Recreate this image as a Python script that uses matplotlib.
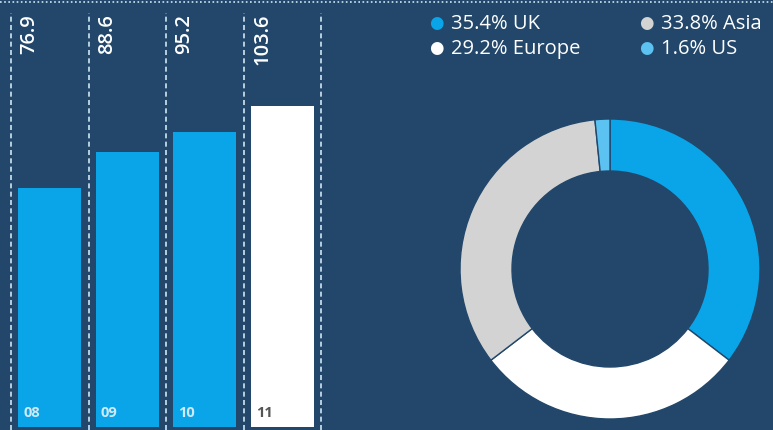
import matplotlib
matplotlib.use("Agg")
import matplotlib.pyplot as plt

years = ["08", "09", "10", "11"]
values = [76.9, 88.6, 95.2, 103.6]
bar_colors = ["#0aa5e8", "#0aa5e8", "#0aa5e8", "#ffffff"]
year_colors = ["#cfe9f6", "#cfe9f6", "#cfe9f6", "#555555"]

regions = ["UK", "Europe", "Asia", "US"]
shares = [35.4, 29.2, 33.8, 1.6]
region_colors = ["#0aa5e8", "#ffffff", "#d3d3d3", "#5cc2f2"]

BG = "#22476b"
LINE = "#cfe6f3"
plt.rcParams['font.family'] = ['Open Sans', 'DejaVu Sans']

fig = plt.figure(figsize=(7.73, 4.31), dpi=100)
fig.patch.set_facecolor(BG)

# top dotted rule
fig.add_artist(plt.Line2D([0, 1], [0.993, 0.993], transform=fig.transFigure,
                          color=LINE, lw=1.2, linestyle=(0, (1, 1.5))))

# bar chart
W, H = 773, 431
ax = fig.add_axes([0, 0, 330 / W, 1])
ax.set_facecolor("none")
xs = list(range(len(years)))
ax.bar(xs, values, width=0.81, color=bar_colors, zorder=2)
ax.set_xlim(-0.5 - 11 / 77.5, -0.5 - 11 / 77.5 + 330 / 77.5)
ax.set_ylim(-1.0, 138.0)
ax.axis("off")
ytop = 133.5
ax.vlines([x - 0.5 for x in xs] + [xs[-1] + 0.5], -1, ytop, colors=LINE,
          linestyles=(0, (3, 2)), lw=1.2, zorder=3)
for x, v, y, c in zip(xs, values, years, year_colors):
    ax.text(x - 0.26, ytop, f"{v:.1f}", rotation=90, ha="center", va="top",
            color="white", fontsize=14.5, fontweight="semibold")
    ax.text(x - 0.34, 2.5, y, ha="left", va="bottom", color=c,
            fontsize=10.5, fontweight="bold", zorder=4)

# donut
ax2 = fig.add_axes([(610 - 155) / W, (431 - 270 - 155) / H, 310 / W, 310 / H])
ax2.set_facecolor("none")
ax2.pie(shares, colors=region_colors, startangle=90, counterclock=False,
        radius=150 / 155, wedgeprops=dict(width=52 / 155, edgecolor=BG, linewidth=1.0))
ax2.set_aspect("equal")
ax2.set_xlim(-1, 1)
ax2.set_ylim(-1, 1)

# legend
legend_pos = {"UK": (436, 24), "Europe": (436, 49), "Asia": (646, 24), "US": (646, 49)}
for r, s, c in zip(regions, shares, region_colors):
    px, py = legend_pos[r]
    fig.text(px / W, 1 - py / H, "\u25CF", color=c, fontsize=12, ha="center", va="center")
    fig.text((px + 15) / W, 1 - py / H, f"{s:.1f}% {r}", color="white", fontsize=14.5,
             ha="left", va="center")

fig.savefig("out.png", dpi=100, facecolor=BG)
